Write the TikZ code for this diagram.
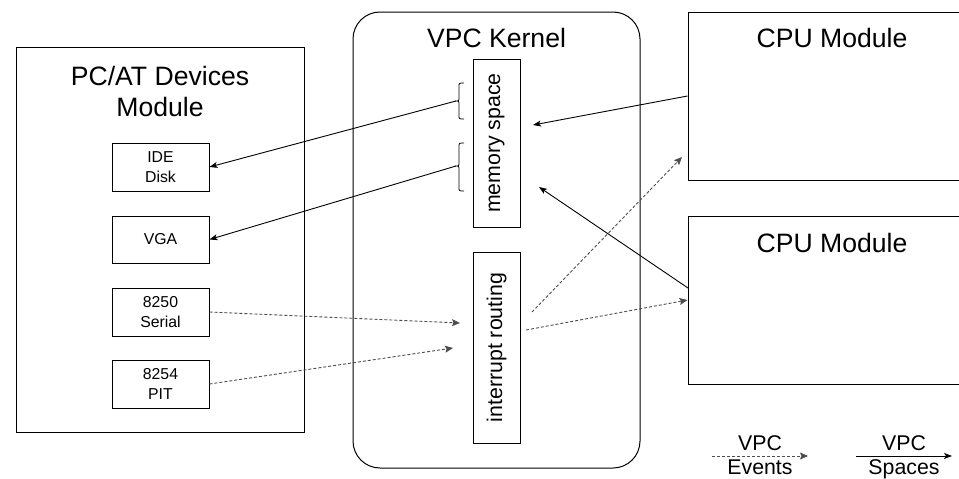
\documentclass[tikz,border=0pt]{standalone}
\usepackage{fontspec}
\setmainfont{Liberation Sans}
\usetikzlibrary{arrows.meta}
\definecolor{evcol}{HTML}{4D4D4D}
\begin{document}
\begin{tikzpicture}[x=1pt,y=-1pt,
  box/.style={draw=black,line width=1pt,inner sep=0pt},
  devbox/.style={box,minimum width=97pt,minimum height=48pt,align=center,
    font=\fontsize{15.8}{20}\selectfont},
  vbar/.style={box,rotate=90,minimum height=47pt,
    font=\fontsize{21.3}{25}\selectfont},
  title/.style={inner sep=0pt,font=\fontsize{26.6}{31}\selectfont,align=center},
  legend/.style={inner sep=0pt,font=\fontsize{21.3}{25}\selectfont},
  space/.style={draw=black,line width=0.9pt,-{Stealth[length=8pt,width=6pt,inset=2pt]}},
  event/.style={draw=evcol,line width=0.9pt,dash pattern=on 3pt off 2pt,
    -{Stealth[length=8pt,width=7pt,inset=1.5pt,fill=evcol,sep=0pt]}},
  bracket/.style={draw=black,line width=0.8pt}]
\useasboundingbox (0,0) rectangle (959,479);
\fill[white] (0,0) rectangle (959,479);

% PC/AT devices module
\node[box,minimum width=288pt,minimum height=385pt] (pcat) at (160,239.5) {};
\node[title] (pcattitle) at (160,91) {PC/AT Devices\\Module};
\node[devbox] (ide) at (160.5,167) {IDE\\Disk};
\node[devbox,minimum height=47pt] (vga) at (160.5,239.5) {VGA};
\node[devbox] (serial) at (160.5,312) {8250\\Serial};
\node[devbox] (pit) at (160.5,384) {8254\\PIT};

% VPC kernel
\node[box,rounded corners=27pt,minimum width=287pt,minimum height=456pt] (kernel) at (496.5,240) {};
\node[title,anchor=base] (kerneltitle) at (496.5,47) {VPC Kernel};
\node[vbar,minimum width=168pt] (mem) at (496.5,143) {memory space};
\node[vbar,minimum width=191pt] (irq) at (496.5,347.5) {interrupt routing};

% CPU modules (running off the right edge)
\node[box,minimum width=288pt,minimum height=168pt] (cpua) at (832,96) {};
\node[title,anchor=base] (cpuatitle) at (832,47) {CPU Module};
\node[box,minimum width=288pt,minimum height=168pt] (cpub) at (832,300) {};
\node[title,anchor=base] (cpubtitle) at (832,252) {CPU Module};

% curly brackets on the memory space
\draw[bracket] (464,83) .. controls (459,83) .. (459,87) -- (459,97)
  .. controls (459,101) .. (455,101) .. controls (459,101) .. (459,105)
  -- (459,115) .. controls (459,119) .. (464,119);
\coordinate (braceA) at (456,101);
\draw[bracket] (464,143) .. controls (459,143) .. (459,147) -- (459,162)
  .. controls (459,166) .. (455,166) .. controls (459,166) .. (459,170)
  -- (459,187) .. controls (459,191) .. (464,191);
\coordinate (braceB) at (456,166);

% free connector ends
\coordinate (memin1) at (533,125);
\coordinate (memin2) at (539,187);
\coordinate (cpubout) at (688,288);
\coordinate (irqin1) at (460,323);
\coordinate (irqin2) at (453,348);
\coordinate (irqout1) at (532,312);
\coordinate (irqout2) at (526,330);
\coordinate (cpuain) at (682,157);

% VPC spaces
\draw[space] (cpua.west) -- (memin1);
\draw[space] (cpubout) -- (memin2);
\draw[space] (braceA) -- (ide.east);
\draw[space] (braceB) -- (vga.east);

% VPC events
\draw[event] (serial.east) -- (irqin1);
\draw[event] (pit.east) -- (irqin2);
\draw[event] (irqout1) -- (cpuain);
\draw[event] (irqout2) -- (cpub.west);

% legend
\coordinate (evA) at (712,456);
\coordinate (evB) at (808,456);
\coordinate (spA) at (856,456);
\coordinate (spB) at (952,456);
\draw[event] (evA) -- (evB);
\draw[space] (spA) -- (spB);
\node[legend,anchor=base] (evtop) at (760,450) {VPC};
\node[legend,anchor=base] (evbot) at (760,474) {Events};
\node[legend,anchor=base] (sptop) at (904,450) {VPC};
\node[legend,anchor=base] (spbot) at (904,474) {Spaces};
\end{tikzpicture}
\end{document}
